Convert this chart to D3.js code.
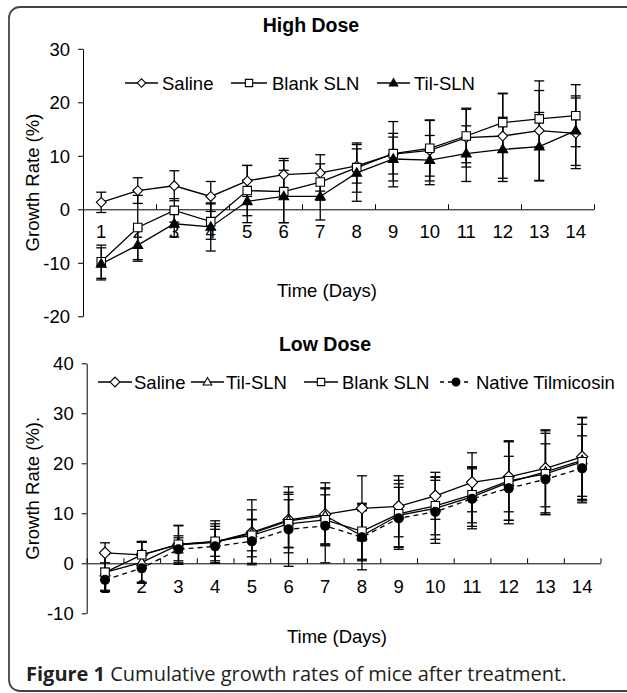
<!DOCTYPE html>
<html>
<head>
<meta charset="utf-8">
<script src="https://cdn.jsdelivr.net/npm/d3@7"></script>
<style>
  body { margin: 0; background: #fff; }
  svg { display: block; }
  text { font-family: "Liberation Sans", Arial, sans-serif; fill: #000; }
</style>
</head>
<body>
<div id="chart"></div>
<script>
// categories
var days = ["1", "2", "3", "4", "5", "6", "7", "8", "9", "10", "11", "12", "13", "14"];

// High dose panel
var highTicks = [-20, -10, 0, 10, 20, 30];
var highSaline   = [1.3, 3.5, 4.4, 2.4, 5.3, 6.5, 6.8, 8.1, 10.3, 11.0, 13.4, 13.7, 14.7, 14.2];
var highSalineSD = [1.9, 2.4, 2.8, 2.8, 2.9, 3.0, 3.4, 3.2, 6.1, 5.7, 5.5, 7.9, 9.3, 6.6];
var highBlank    = [-9.8, -3.4, -0.2, -2.3, 3.5, 3.3, 5.1, 7.8, 10.4, 11.4, 13.7, 16.2, 16.9, 17.5];
var highBlankSD  = [3.1, 6.0, 2.2, 3.3, 4.7, 5.8, 3.4, 4.6, 3.8, 5.2, 5.0, 5.5, 5.3, 5.8];
var highTil      = [-10.2, -6.7, -2.7, -3.3, 1.5, 2.4, 2.4, 6.8, 9.4, 9.2, 10.4, 11.2, 11.7, 14.7];
var highTilSD    = [3.0, 3.0, 2.5, 4.5, 4.0, 4.9, 4.4, 5.3, 4.1, 4.6, 5.2, 6.0, 6.4, 6.5];

// Low dose panel
var lowTicks = [-10, 0, 10, 20, 30, 40];
var lowSaline    = [2.1, 1.7, 3.8, 4.3, 6.2, 8.7, 9.8, 11.0, 11.4, 13.5, 16.2, 17.3, 19.0, 21.3];
var lowSalineSD  = [2.0, 2.5, 1.7, 4.2, 6.5, 6.6, 6.3, 6.5, 6.1, 4.7, 5.9, 7.0, 7.7, 7.9];
var lowTil       = [-1.8, 0.2, 3.7, 4.2, 6.0, 8.5, 9.5, 5.5, 9.6, 11.0, 13.3, 16.2, 18.3, 20.6];
var lowTilSD     = [3.6, 4.0, 3.9, 3.7, 4.7, 5.3, 5.6, 5.0, 6.3, 6.2, 5.9, 8.3, 8.2, 8.5];
var lowBlank     = [-1.8, 1.7, 3.8, 4.4, 5.6, 7.9, 8.7, 6.4, 9.9, 11.5, 13.7, 16.5, 17.9, 20.3];
var lowBlankSD   = [3.8, 2.7, 3.7, 3.0, 3.1, 4.8, 5.0, 5.6, 6.7, 5.8, 5.6, 7.9, 8.1, 7.5];
var lowNative    = [-3.3, -1.0, 2.8, 3.4, 4.4, 6.8, 7.5, 5.2, 9.0, 10.3, 12.9, 15.0, 16.8, 19.0];
var lowNativeSD  = [2.3, 3.0, 2.3, 3.4, 4.4, 7.4, 7.4, 6.5, 6.2, 6.3, 6.0, 6.4, 7.1, 6.5];

var width = 627, height = 693;
var fontSize = 18.5;

var svg = d3.select("#chart").append("svg")
    .attr("width", width)
    .attr("height", height);

// figure frame (right side runs off the page)
svg.append("rect")
    .attr("x", 9).attr("y", 7)
    .attr("width", 680).attr("height", 684)
    .attr("rx", 11)
    .attr("fill", "none")
    .attr("stroke", "#444")
    .attr("stroke-width", 1.8);

// draw one marker
function marker(g, type, x, y, size) {
    var p;
    if (type === "diamond") {
        p = g.append("path")
            .attr("d", d3.symbol(d3.symbolSquare, size)())
            .attr("transform", "translate(" + x + "," + y + ") rotate(45)");
    } else if (type === "square") {
        p = g.append("path")
            .attr("d", d3.symbol(d3.symbolSquare, size)())
            .attr("transform", "translate(" + x + "," + y + ")");
    } else if (type === "triangle" || type === "triangleOpen") {
        p = g.append("path")
            .attr("d", d3.symbol(d3.symbolTriangle, size)())
            .attr("transform", "translate(" + x + "," + (y + 0.5) + ")");
    } else {
        p = g.append("path")
            .attr("d", d3.symbol(d3.symbolCircle, size)())
            .attr("transform", "translate(" + x + "," + y + ")");
    }
    var filled = (type === "triangle" || type === "circle");
    p.attr("fill", filled ? "#000" : "#fff")
        .attr("stroke", "#000")
        .attr("stroke-width", 1.1);
}

function drawPanel(opt) {
    var g = svg.append("g");

    var x = d3.scaleBand().domain(days).range([opt.x0, opt.x1]).padding(0);
    var xb = d3.scaleLinear().domain([0, days.length]).range([opt.x0, opt.x1]);
    var y = d3.scaleLinear().domain(opt.domain).range([opt.yBottom, opt.yTop]);
    function cx(i) { return x(days[i]) + x.bandwidth() / 2; }

    // title
    g.append("text")
        .attr("x", opt.titleX).attr("y", opt.titleY)
        .attr("text-anchor", "middle")
        .attr("font-weight", "bold")
        .attr("font-size", 19.5)
        .text(opt.title);

    // y axis (plain hyphen for negatives, like the original)
    var yAxis = g.append("g")
        .attr("transform", "translate(" + opt.x0 + ",0)")
        .call(d3.axisLeft(y).tickValues(opt.ticks).tickSize(5).tickSizeOuter(0).tickPadding(8)
            .tickFormat(function (d) { return String(d); }));
    yAxis.selectAll("text").attr("font-size", fontSize).attr("font-family", "Liberation Sans, Arial, sans-serif").attr("dy", "0.36em");
    yAxis.selectAll("line, path").attr("stroke", "#000").attr("stroke-width", 1);

    // x axis along zero, ticks pointing up
    var xAxis = g.append("g")
        .attr("transform", "translate(0," + y(0) + ")")
        .call(d3.axisTop(xb).tickValues(opt.xTicks).tickSize(5).tickSizeOuter(0).tickFormat(""));
    xAxis.selectAll("line, path").attr("stroke", "#000").attr("stroke-width", 1);

    // category labels under the zero line
    g.selectAll(".daylab")
        .data(days)
        .enter()
        .append("text")
        .attr("x", function (d) { return x(d) + x.bandwidth() / 2; })
        .attr("y", opt.dayLabelY)
        .attr("text-anchor", "middle")
        .attr("font-size", fontSize)
        .text(function (d) { return d; });

    // axis titles
    g.append("text")
        .attr("x", opt.xTitleX).attr("y", opt.xTitleY)
        .attr("text-anchor", "middle")
        .attr("font-size", fontSize)
        .text("Time (Days)");
    g.append("text")
        .attr("transform", "translate(" + opt.yTitleX + "," + (opt.yTop + opt.yBottom) / 2 + ") rotate(-90)")
        .attr("text-anchor", "middle")
        .attr("font-size", fontSize)
        .text(opt.yTitle);

    // error bars
    opt.series.forEach(function (s) {
        s.values.forEach(function (v, i) {
            var lo = y(v - s.sd[i]), hi = y(v + s.sd[i]), xc = cx(i);
            g.append("line").attr("x1", xc).attr("x2", xc).attr("y1", lo).attr("y2", hi)
                .attr("stroke", "#000").attr("stroke-width", 1.3);
            [lo, hi].forEach(function (yy) {
                g.append("line").attr("x1", xc - 5).attr("x2", xc + 5).attr("y1", yy).attr("y2", yy)
                    .attr("stroke", "#000").attr("stroke-width", 1.3);
            });
        });
    });

    // lines + markers
    var line = d3.line()
        .x(function (d, i) { return cx(i); })
        .y(function (d) { return y(d); });
    opt.series.forEach(function (s) {
        g.append("path")
            .attr("d", line(s.values))
            .attr("fill", "none")
            .attr("stroke", "#000")
            .attr("stroke-width", 1.3)
            .attr("stroke-dasharray", s.dashed ? "5,4" : null);
    });
    opt.series.forEach(function (s) {
        s.values.forEach(function (v, i) {
            marker(g, s.type, cx(i), y(v), s.size);
        });
    });

    // legend
    opt.legend.forEach(function (l) {
        var s = opt.series[l.idx];
        g.append("line")
            .attr("x1", l.x1).attr("x2", l.x2)
            .attr("y1", opt.legendY).attr("y2", opt.legendY)
            .attr("stroke", "#000").attr("stroke-width", 1.3)
            .attr("stroke-dasharray", s.dashed ? "4,4" : null);
        marker(g, s.type, (l.x1 + l.x2) / 2, opt.legendY, s.size * 0.75);
        g.append("text")
            .attr("x", l.tx).attr("y", opt.legendY + 6.5)
            .attr("font-size", fontSize)
            .text(s.name);
    });
}

drawPanel({
    title: "High Dose", titleX: 311, titleY: 32,
    x0: 83, x1: 594, yTop: 48.8, yBottom: 316.3,
    domain: [-20, 30], ticks: highTicks,
    xTicks: [0, 2, 4, 6, 8, 10, 12, 14],
    dayLabelY: 238, xTitleX: 327, xTitleY: 297,
    yTitleX: 39, yTitle: "Growth Rate (%)",
    legendY: 83,
    series: [
        { name: "Saline", values: highSaline, sd: highSalineSD, type: "diamond", size: 48 },
        { name: "Blank SLN", values: highBlank, sd: highBlankSD, type: "square", size: 72 },
        { name: "Til-SLN", values: highTil, sd: highTilSD, type: "triangle", size: 42 }
    ],
    legend: [
        { idx: 0, x1: 125, x2: 158, tx: 162 },
        { idx: 1, x1: 231, x2: 267, tx: 272 },
        { idx: 2, x1: 377, x2: 410, tx: 414 }
    ]
});

drawPanel({
    title: "Low Dose", titleX: 325, titleY: 351,
    x0: 86.7, x1: 600.5, yTop: 363.3, yBottom: 613.3,
    domain: [-10, 40], ticks: lowTicks,
    xTicks: [0, 1, 2, 3, 4, 5, 6, 7, 8, 9, 10, 11, 12, 13, 14],
    dayLabelY: 593, xTitleX: 337, xTitleY: 643,
    yTitleX: 39, yTitle: "Growth Rate (%).",
    legendY: 382,
    series: [
        { name: "Saline", values: lowSaline, sd: lowSalineSD, type: "diamond", size: 64 },
        { name: "Til-SLN", values: lowTil, sd: lowTilSD, type: "triangleOpen", size: 42 },
        { name: "Blank SLN", values: lowBlank, sd: lowBlankSD, type: "square", size: 72 },
        { name: "Native Tilmicosin", values: lowNative, sd: lowNativeSD, type: "circle", size: 64, dashed: true }
    ],
    legend: [
        { idx: 0, x1: 98, x2: 132, tx: 134 },
        { idx: 1, x1: 191, x2: 224, tx: 226 },
        { idx: 2, x1: 304, x2: 338, tx: 342 },
        { idx: 3, x1: 440, x2: 472, tx: 476 }
    ]
});

// caption
var cap = svg.append("text")
    .attr("x", 26).attr("y", 681)
    .attr("font-size", 20)
    .style("font-family", "'Open Sans', 'Noto Sans', sans-serif")
    .style("fill", "#231f20");
cap.append("tspan").attr("font-weight", "bold").text("Figure 1");
cap.append("tspan").text(" Cumulative growth rates of mice after treatment.");
</script>
</body>
</html>
